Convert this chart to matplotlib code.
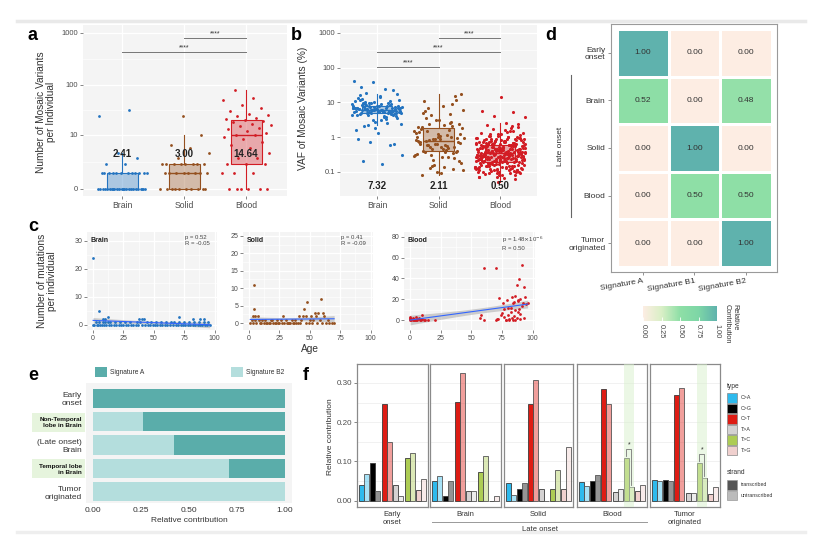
# -*- coding: utf-8 -*-
import numpy as np
import matplotlib
matplotlib.use('Agg')
import matplotlib.pyplot as plt
from matplotlib.colors import LinearSegmentedColormap, to_rgba
from matplotlib.patches import Rectangle

plt.rcParams['font.family'] = ['Liberation Sans', 'DejaVu Sans']

# ---------------- data ----------------
groups = ['Brain', 'Solid', 'Blood']
group_colors = ['#2474c0', '#94501f', '#d21c24']

# a: number of mosaic variants per individual
a_brain = [0, 0, 0, 0, 0, 0, 0, 0, 0, 0, 0, 0, 0, 0, 0, 0, 0, 0, 0, 0, 0, 0, 0, 0,
           1, 1, 1, 1, 1, 1, 1, 1, 1, 1, 1, 1, 2, 2, 3, 4, 24, 32]
a_solid = [0, 0, 0, 0, 0, 0, 0, 0, 0, 0, 1, 1, 1, 1, 1, 1, 1, 1,
           2, 2, 2, 2, 2, 2, 2, 2, 3, 4, 5, 6, 10, 24]
a_blood = [0, 0, 0, 0, 0, 0, 1, 1, 1, 2, 2, 2, 3, 3, 4, 5, 6, 7, 8, 9, 10, 10,
           11, 12, 13, 14, 15, 16, 17, 18, 19, 20, 21, 22, 24, 25, 27, 30, 35, 40, 50, 55, 80]
a_means = ['2.41', '3.00', '14.64']

# b: VAF of mosaic variants (%)
b_brain = [6.1, 5.2, 7.8, 4.5, 8.9, 5.9, 6.7, 3.9, 10.2, 5.5, 6.3, 7.1, 4.8, 9.4, 5.8, 6.0,
           12.5, 4.2, 7.5, 5.1, 6.8, 8.3, 3.5, 5.6, 6.4, 11.0, 4.9, 7.2, 5.3, 9.9, 6.2, 2.8,
           5.7, 8.0, 4.4, 6.6, 15.0, 5.0, 7.0, 3.2, 6.9, 5.4, 9.0, 4.1, 6.5, 13.5, 5.8, 7.4,
           2.4, 6.1, 8.6, 4.7, 5.9, 10.8, 3.7, 6.3, 7.7, 5.2, 16.5, 4.6, 6.0, 8.8, 5.5, 2.1,
           7.3, 6.4, 4.3, 9.6, 5.1, 6.7, 3.0, 28.0, 22.0, 38.0, 42.0, 25.0, 18.0, 17.0, 1.3,
           0.85, 0.6, 0.7, 0.3, 0.17, 0.2, 0.65, 1.8, 1.6, 2.6, 2.2, 11.5, 14.0, 12.0, 5.6,
           6.2, 7.9, 4.0, 6.6, 5.0, 8.1, 6.9, 5.3, 7.6, 4.8, 9.2, 6.0, 5.7, 10.5, 6.8, 3.3,
           4.9, 7.0, 5.4, 6.3, 8.4, 9.5, 4.4, 5.8, 7.2, 6.5]
b_solid = [0.8, 1.2, 0.5, 2.0, 0.35, 0.9, 1.5, 0.6, 3.5, 0.4, 1.0, 0.7, 2.5, 0.3, 1.8, 0.45,
           5.0, 0.25, 0.85, 1.3, 0.55, 7.0, 0.2, 1.1, 0.65, 9.0, 0.15, 0.95, 2.2, 0.38, 12.0,
           0.1, 0.75, 1.6, 0.5, 17.0, 0.09, 0.08, 0.12, 0.16, 0.3, 0.42, 0.6, 0.72, 1.05, 1.4,
           2.8, 4.2, 6.0, 8.0, 11.0, 15.0, 3.0, 0.33, 0.48, 0.58, 0.68, 0.88, 1.7, 2.1, 0.22,
           0.28, 0.36, 0.78, 0.92, 1.25, 1.9, 4.5, 0.13, 0.18, 0.26, 0.4, 0.52, 0.62, 0.82,
           1.15, 1.45, 2.4, 3.2, 0.7, 0.98, 0.44, 0.11, 0.14, 5.5, 0.36, 0.64, 1.02, 0.27, 2.3]
b_blood = [0.35, 0.28, 0.42, 0.51, 0.19, 0.33, 0.62, 0.25, 0.38, 0.46, 0.22, 0.31, 0.55, 0.17,
           0.29, 0.71, 0.36, 0.24, 0.44, 0.27, 0.58, 0.15, 0.32, 0.40, 0.21, 0.66, 0.30, 0.48,
           0.13, 0.26, 0.37, 0.52, 0.23, 0.34, 0.85, 0.18, 0.41, 0.29, 0.60, 0.20, 0.12, 0.39,
           0.27, 0.95, 0.45, 0.16, 0.31, 0.53, 0.24, 0.35, 0.68, 0.11, 0.43, 0.22, 0.30, 1.10,
           0.26, 0.49, 0.19, 0.36, 0.75, 0.14, 0.33, 0.57, 0.28, 0.10, 0.47, 0.23, 0.39, 1.30,
           0.21, 0.32, 0.64, 0.17, 0.44, 0.25, 0.09, 0.37, 0.80, 0.29, 0.54, 0.20, 0.34, 1.60,
           0.15, 0.41, 0.27, 0.70, 0.12, 0.38, 0.22, 0.50, 0.31, 0.08, 0.45, 0.26, 0.90, 0.18,
           0.35, 0.61, 0.24, 2.10, 0.40, 0.16, 0.30, 0.56, 0.21, 0.07, 0.43, 0.28, 1.20, 0.33,
           0.19, 0.48, 0.25, 0.66, 0.14, 0.36, 0.23, 2.40, 0.42, 0.11, 0.32, 0.78, 0.27, 0.52,
           0.20, 0.06, 0.39, 0.30, 1.00, 0.17, 0.46, 0.24, 0.59, 0.13, 0.34, 0.88, 0.22, 0.41,
           0.29, 0.05, 0.37, 1.45, 0.18, 0.55, 0.26, 0.72, 0.15, 0.44, 0.21, 0.33, 0.63, 0.10,
           0.40, 0.28, 1.80, 0.19, 0.49, 0.25, 0.35, 0.82, 0.12, 0.31, 0.58, 0.23, 0.09, 0.43,
           0.27, 0.67, 0.16, 0.38, 0.20, 0.51, 0.30, 1.05, 0.14, 0.45, 0.26, 0.36, 0.47, 0.32,
           0.57, 0.24, 0.69, 0.18, 0.41, 0.93, 0.28, 0.35, 0.15, 0.53, 0.22, 0.76, 0.30, 0.11,
           0.09, 0.10, 0.11, 0.12, 0.13, 0.08, 0.095, 0.105, 0.115, 0.125, 0.14, 0.145, 0.155,
           0.165, 0.175, 0.60, 0.65, 0.70, 0.75, 0.80, 0.85, 0.90, 0.95, 1.00, 1.10, 1.15, 1.25,
           1.35, 1.50, 1.70, 0.62, 0.73, 0.86, 0.98, 1.20, 0.07, 0.09, 0.105, 0.12, 0.135,
           0.55, 0.68, 0.77, 0.91, 1.40, 0.16, 0.185, 0.21, 0.23, 0.46, 0.52, 0.60, 0.065,
           0.085, 0.10, 0.115, 0.128, 0.142, 0.70, 0.83,
           14.0, 5.5, 5.3, 4.0, 3.8, 2.6, 2.2, 1.9, 0.08, 0.07]
b_means = ['7.32', '2.11', '0.50']

# c: mutations per individual vs age
c_brain_age = [0, 1, 3, 4, 6, 7, 9, 11, 13, 15, 17, 19, 21, 23, 25, 27, 29, 31, 33, 35, 37, 40,
               43, 45, 47, 49, 51, 53, 55, 57, 59, 61, 63, 66, 68, 70, 72, 74, 76, 78, 80, 82,
               84, 86, 88, 90, 92, 94, 96,
               2, 5, 8, 10, 12, 14, 18, 22, 26, 30, 36, 39, 44, 48, 52, 56, 60, 64, 67, 71, 75,
               79, 83, 87, 91, 95,
               8, 10, 38, 40, 42, 82, 88, 91, 12, 71, 5, 0]
c_brain_n = [0, 0, 0, 0, 0, 0, 0, 0, 0, 0, 0, 0, 0, 0, 0, 0, 0, 0, 0, 0, 0, 0,
             0, 0, 0, 0, 0, 0, 0, 0, 0, 0, 0, 0, 0, 0, 0, 0, 0, 0, 0, 0,
             0, 0, 0, 0, 0, 0, 0,
             1, 1, 1, 1, 1, 1, 1, 1, 1, 1, 1, 1, 1, 1, 1, 1, 1, 1, 1, 1, 1,
             1, 1, 1, 1, 1,
             2, 2, 2, 2, 2, 2, 2, 2, 3, 3, 5, 24]
c_solid_age = [1, 3, 6, 9, 10, 12, 14, 15, 16, 17, 20, 21, 22, 24, 25, 27, 29, 31, 32, 33,
               34, 36, 37, 39, 40, 42, 47, 49, 52, 56, 60, 63, 66, 68, 70,
               2, 5, 8, 11, 13, 18, 19, 23, 26, 30, 35, 38, 43, 50, 53, 58, 65,
               3, 5, 7, 28, 41, 44, 51, 55, 62, 47,
               54, 57, 61, 4, 45, 48, 59, 4]
c_solid_n = [0, 0, 0, 0, 0, 0, 0, 0, 0, 0, 0, 0, 0, 0, 0, 0, 0, 0, 0, 0,
             0, 0, 0, 0, 0, 0, 0, 0, 0, 0, 0, 0, 0, 0, 0,
             1, 1, 1, 1, 1, 1, 1, 1, 1, 1, 1, 1, 1, 1, 1, 1, 1,
             2, 2, 2, 2, 2, 2, 2, 2, 2, 2,
             3, 3, 3, 4, 4, 6, 7, 11]
c_blood_age = [0, 1, 2, 3, 4, 5, 6, 8, 9, 11, 12, 15, 20, 0, 1, 3, 6, 8, 10, 0, 2, 7, 0, 5, 10,
               57, 58, 60, 70, 71, 72, 74, 75, 76, 77, 77, 78, 79, 80, 80, 81, 82, 82, 83, 83,
               84, 84, 85, 85, 86, 86, 87, 87, 88, 88, 88, 89, 89, 90, 90, 91, 91, 92, 93, 93,
               94, 95, 96, 60, 70, 73, 78, 81, 86, 90]
c_blood_n = [0, 0, 0, 0, 0, 0, 0, 0, 0, 0, 0, 0, 0, 1, 1, 1, 1, 1, 1, 2, 2, 2, 3, 3, 5,
             2, 5, 50, 50, 1, 1, 5, 7, 16, 3, 11, 0, 19, 12, 5, 0, 12, 8, 2, 22,
             0, 16, 4, 17, 23, 10, 34, 2, 18, 8, 19, 39, 11, 20, 6, 53, 13, 16, 32, 2,
             22, 15, 16, 0, 0, 21, 0, 1, 0, 1]
c_stats = [('p = 0.52', 'R = -0.05'), ('p = 0.41', 'R = -0.09'),
           (r'p = 1.48$\times$10$^{-6}$', 'R = 0.50')]

# d: signature contributions
sig_names = ['Signature A', 'Signature B1', 'Signature B2']
d_rows = ['Early\nonset', 'Brain', 'Solid', 'Blood', 'Tumor\noriginated']
d_contrib = [[1.00, 0.00, 0.00],
             [0.52, 0.00, 0.48],
             [0.00, 1.00, 0.00],
             [0.00, 0.50, 0.50],
             [0.00, 0.00, 1.00]]

# e: relative contribution of signatures
e_rows = ['Early\nonset', 'Non-Temporal\nlobe in Brain', '(Late onset)\nBrain',
          'Temporal lobe\nin Brain', 'Tumor\noriginated']
e_highlight = [False, True, False, True, False]
e_sigB2 = [0.00, 0.26, 0.42, 0.71, 1.00]
e_sigA = [1.00, 0.74, 0.58, 0.29, 0.00]

# f: strand bias
mut_types = ['C>A', 'C>G', 'C>T', 'T>A', 'T>C', 'T>G']
type_colors = ['#2EBAED', '#000000', '#DE1C14', '#D4D2D2', '#ADCC54', '#F0D0CE']
f_groups = ['Early\nonset', 'Brain', 'Solid', 'Blood', 'Tumor\noriginated']
f_transcribed = [[0.040, 0.097, 0.247, 0.040, 0.110, 0.027],
                 [0.049, 0.012, 0.251, 0.026, 0.074, 0.000],
                 [0.046, 0.030, 0.247, 0.031, 0.031, 0.031],
                 [0.047, 0.050, 0.285, 0.023, 0.110, 0.026],
                 [0.052, 0.052, 0.268, 0.019, 0.096, 0.016]]
f_untranscribed = [[0.068, 0.026, 0.150, 0.013, 0.122, 0.056],
                   [0.062, 0.049, 0.326, 0.026, 0.113, 0.013],
                   [0.015, 0.046, 0.308, 0.000, 0.078, 0.138],
                   [0.037, 0.066, 0.247, 0.031, 0.036, 0.039],
                   [0.050, 0.050, 0.287, 0.020, 0.057, 0.036]]
f_signif = [False, False, False, True, True]

# ---------------- figure ----------------
W, H = 821, 535
fig = plt.figure(figsize=(W / 100, H / 100), dpi=100)


def px_axes(x0, y0, x1, y1):
    return fig.add_axes([x0 / W, 1 - y1 / H, (x1 - x0) / W, (y1 - y0) / H])


def jitter(n, half):
    k = np.arange(n)
    return ((k * 0.6180339887 + 0.31) % 1.0 - 0.5) * 2 * half


def gg_style(ax, size=5.5):
    ax.set_facecolor('#f4f4f4')
    for s in ax.spines.values():
        s.set_visible(False)
    ax.grid(True, which='major', color='white', lw=0.9)
    ax.grid(True, which='minor', color='white', lw=0.45)
    ax.set_axisbelow(True)
    ax.tick_params(which='major', length=2, width=0.5, color='#555', labelsize=size,
                   labelcolor='#4d4d4d', pad=1.5)
    ax.tick_params(which='minor', length=0)


def draw_box(ax, pos, vals, c):
    ax.boxplot([vals], positions=[pos], widths=0.5, patch_artist=True, showfliers=False,
               manage_ticks=False,
               boxprops=dict(facecolor=to_rgba(c, 0.35), edgecolor=c, lw=0.8),
               whiskerprops=dict(color=c, lw=0.8), capprops=dict(lw=0),
               medianprops=dict(color=c, lw=1.0), zorder=2)


ov = px_axes(0, 0, W, H)
ov.set_xlim(0, W)
ov.set_ylim(H, 0)
ov.axis('off')
ov.plot([17, 805], [21, 21], color='#e9e9e9', lw=2.5)
ov.plot([17, 805], [532, 532], color='#eeeeee', lw=2.5)

for lab, x, y in [('a', 28, 40), ('b', 291, 40), ('d', 545, 40),
                  ('c', 28, 231), ('e', 28, 380), ('f', 303, 380)]:
    ov.text(x, y, lab, fontsize=13, fontweight='bold', va='baseline', ha='left')

# ---- a ----
ax = px_axes(83, 25, 287, 196)
gg_style(ax)
for i, vals in enumerate([a_brain, a_solid, a_blood]):
    t = np.log10(np.array(vals, float) + 1)
    draw_box(ax, i, t, group_colors[i])
    ax.scatter(i + jitter(len(t), 0.4), t, s=4, color=group_colors[i], lw=0, zorder=3)
    ax.text(i, 0.67, a_means[i], ha='center', va='center', fontsize=7, fontweight='bold',
            color='#222', zorder=4)
ax.set_xlim(-0.63, 2.66)
ax.set_ylim(-0.135, 3.15)
ax.set_yticks(np.log10(np.array([0, 10, 100, 1000]) + 1))
ax.set_yticklabels(['0', '10', '100', '1000'])
ax.set_yticks([0.52, 1.52, 2.5], minor=True)
ax.set_xticks([0, 1, 2])
ax.set_xticklabels(groups, fontsize=6.2)
for g0, g1, yy in [(1, 2, 2.9), (0, 2, 2.63)]:
    ax.plot([g0, g1], [yy, yy], color='#777', lw=0.7)
    ax.text((g0 + g1) / 2, yy + 0.02, '****', ha='center', va='bottom', fontsize=5, color='#333')
ov.text(46, 112, 'Number of Mosaic Variants\nper Individual', rotation=90, ha='center',
        va='center', fontsize=7.3, color='#333', linespacing=1.1)

# ---- b ----
ax = px_axes(340, 25, 537, 196)
gg_style(ax)
for i, vals in enumerate([b_brain, b_solid, b_blood]):
    t = np.log10(np.array(vals, float))
    draw_box(ax, i, t, group_colors[i])
    ax.scatter(i + jitter(len(t), 0.41), t, s=5, color=group_colors[i], lw=0, zorder=3)
    ax.text(i, -1.41, b_means[i], ha='center', va='center', fontsize=7, fontweight='bold',
            color='#222', zorder=4)
ax.set_xlim(-0.6, 2.6)
ax.set_ylim(-1.70, 3.23)
ax.set_yticks([-1, 0, 1, 2, 3])
ax.set_yticklabels(['0.1', '1', '10', '100', '1000'])
ax.set_yticks([-0.5, 0.5, 1.5, 2.5], minor=True)
ax.set_xticks([0, 1, 2])
ax.set_xticklabels(groups, fontsize=6.2)
for g0, g1, yy in [(0, 1, 2.02), (0, 2, 2.45), (1, 2, 2.85)]:
    ax.plot([g0, g1], [yy, yy], color='#777', lw=0.7)
    ax.text((g0 + g1) / 2, yy + 0.02, '****', ha='center', va='bottom', fontsize=5, color='#333')
ov.text(303, 108, 'VAF of Mosaic Variants (%)', rotation=90, ha='center', va='center',
        fontsize=7.3, color='#333')

# ---- c ----
c_sets = [(87, 217, c_brain_age, c_brain_n, (-1.8, 33.1), [0, 10, 20, 30]),
          (243, 373, c_solid_age, c_solid_n, (-2.0, 26.1), [0, 5, 10, 15, 20, 25]),
          (404, 535, c_blood_age, c_blood_n, (-9.6, 84.6), [0, 20, 40, 60, 80])]
for i, (x0, x1, age, cnt, ylim, yt) in enumerate(c_sets):
    ax = px_axes(x0, 232, x1, 330)
    gg_style(ax, size=5)
    xa = np.array(age, float)
    ya = np.array(cnt, float)
    slope, icpt = np.polyfit(xa, ya, 1)
    xs = np.linspace(xa.min(), xa.max(), 60)
    yh = icpt + slope * xs
    resid = ya - (icpt + slope * xa)
    s = np.sqrt(np.sum(resid ** 2) / (len(xa) - 2))
    se = s * np.sqrt(1 / len(xa) + (xs - xa.mean()) ** 2 / np.sum((xa - xa.mean()) ** 2))
    ax.scatter(xa, ya, s=4, color=group_colors[i], lw=0, zorder=3)
    ax.fill_between(xs, yh - 1.97 * se, yh + 1.97 * se, color='#9a9a9a', alpha=0.45, lw=0,
                    zorder=2)
    ax.plot(xs, yh, color='#3366ff', lw=0.8, zorder=4)
    ax.set_xlim(-5, 102)
    ax.set_ylim(*ylim)
    ax.set_xticks([0, 25, 50, 75, 100])
    ax.set_xticks([12.5, 37.5, 62.5, 87.5], minor=True)
    ax.set_yticks(yt)
    ax.set_yticks(np.array(yt[:-1]) + (yt[1] - yt[0]) / 2, minor=True)
    ax.text(0.03, 0.95, groups[i], transform=ax.transAxes, fontsize=5, fontweight='bold',
            va='top', ha='left', color='#222')
    ax.text(0.75, 0.97, c_stats[i][0] + '\n' + c_stats[i][1], transform=ax.transAxes,
            fontsize=4.3, va='top', ha='left', color='#444', linespacing=1.2)
ov.text(47, 281, 'Number of mutations\nper individual', rotation=90, ha='center', va='center',
        fontsize=7.3, color='#333', linespacing=1.1)
ov.text(310, 349, 'Age', ha='center', va='center', fontsize=7.3, color='#333')

# ---- d ----
cmap = LinearSegmentedColormap.from_list(
    'contrib', [(0, '#fdede3'), (0.25, '#d9efc6'), (0.5, '#8edfa6'), (0.75, '#7dd6a6'),
                (1, '#5fb2ad')])
ax = px_axes(611, 24, 777, 272)
M = np.array(d_contrib)
mesh = ax.pcolormesh(np.arange(4) - 0.5, np.arange(6) - 0.5, M, cmap=cmap, vmin=0, vmax=1,
                     edgecolors='white', linewidth=1.0)
for r in range(M.shape[0]):
    for c in range(M.shape[1]):
        ax.text(c, r, f'{M[r, c]:.2f}', ha='center', va='center', fontsize=6, color='#333')
ax.set_xlim(-0.616, 2.597)
ax.set_ylim(4.605, -0.605)
for s in ax.spines.values():
    s.set_color('#9a9a9a')
    s.set_linewidth(0.8)
ax.set_yticks(range(len(d_rows)))
ax.set_yticklabels(d_rows, fontsize=6, color='#333', linespacing=1.1)
ax.set_xticks(range(len(sig_names)))
ax.set_xticklabels(sig_names, fontsize=6, color='#333', rotation=10, ha='right',
                   rotation_mode='anchor')
ax.tick_params(length=2, width=0.5, color='#666', pad=2)
ov.plot([571, 571], [75, 217], color='#666', lw=0.8)
ov.text(560, 146, 'Late onset', rotation=90, ha='center', va='center', fontsize=6, color='#333')

cax = px_axes(643, 306, 717, 321)
cb = fig.colorbar(mesh, cax=cax, orientation='horizontal')
cb.outline.set_visible(False)
cb.set_ticks([0, 0.25, 0.5, 0.75, 1.0])
cb.set_ticklabels(['0.00', '0.25', '0.50', '0.75', '1.00'])
cax.tick_params(length=3, width=0.6, color='white', direction='in', labelsize=5.3,
                labelcolor='#444', labelrotation=-90, pad=2)
for t in cax.get_xticklabels():
    t.set_va('top')
ov.text(724, 304, 'Relative\nContribution', rotation=-90, ha='left', va='top', fontsize=5.3,
        color='#333', linespacing=1.1)

# ---- e ----
ax = px_axes(86, 383, 292, 503)
ax.set_facecolor('#f4f4f4')
for s in ax.spines.values():
    s.set_visible(False)
ye = np.arange(len(e_rows))
ax.barh(ye, e_sigB2, height=0.81, color='#b4dedd', zorder=2)
ax.barh(ye, e_sigA, left=e_sigB2, height=0.81, color='#5aadaa', zorder=2)
ax.set_xlim(-0.036, 1.036)
ax.set_ylim(4.47, -0.64)
ax.set_xticks([0, 0.25, 0.5, 0.75, 1.0])
ax.set_xticklabels(['0.00', '0.25', '0.50', '0.75', '1.00'])
ax.set_yticks(ye)
ax.set_yticklabels(e_rows, linespacing=1.15)
ax.tick_params(length=0, labelsize=6, labelcolor='#333', pad=3)
for lab, hl in zip(ax.get_yticklabels(), e_highlight):
    if hl:
        lab.set_fontsize(4.6)
        lab.set_fontweight('bold')
        lab.set_color('#111')
ax.set_xlabel('Relative contribution', fontsize=6, color='#333', labelpad=2)
ov.add_patch(Rectangle((32, 413), 53, 19, color='#e6f4dd', lw=0))
ov.add_patch(Rectangle((32, 459), 53, 19, color='#e6f4dd', lw=0))
ov.add_patch(Rectangle((95, 367), 12, 10, color='#5aadaa', lw=0))
ov.text(110, 372, 'Signature A', fontsize=4.8, va='center', ha='left', color='#333')
ov.add_patch(Rectangle((231, 367), 12, 10, color='#b4dedd', lw=0))
ov.text(246, 372, 'Signature B2', fontsize=4.8, va='center', ha='left', color='#333')

# ---- f ----
facets = [(357, 428), (430, 501), (504, 573), (577, 647), (650, 720)]
xf = np.arange(len(mut_types))
for i, (x0, x1) in enumerate(facets):
    ax = px_axes(x0, 364, x1, 507)
    ax.set_facecolor('white')
    for s in ax.spines.values():
        s.set_color('#8a8a8a')
        s.set_linewidth(0.9)
    ax.bar(xf - 0.225, f_transcribed[i], width=0.45, color=type_colors, edgecolor='#3a3a3a',
           lw=0.6, zorder=2)
    ax.bar(xf + 0.225, f_untranscribed[i], width=0.45,
           color=[to_rgba(c, 0.42) for c in type_colors], edgecolor='#555', lw=0.6, zorder=2)
    if f_signif[i]:
        yt_ = f_transcribed[i][4]
        yu_ = f_untranscribed[i][4]
        top = max(yt_, yu_) + 0.022
        ax.plot([3.775, 3.775, 4.225, 4.225], [yt_ + 0.005, top, top, yu_ + 0.005],
                color='#777', lw=0.6, zorder=4)
        ax.text(4.0, top + 0.002, '*', ha='center', va='bottom', fontsize=5, color='#333',
                zorder=4)
        ax.axvspan(3.55, 4.45, color='#d8f0cc', alpha=0.5, lw=0, zorder=3)
    ax.set_xlim(-0.6, 5.6)
    ax.set_ylim(-0.016, 0.348)
    ax.set_yticks([0, 0.1, 0.2, 0.3])
    ax.set_yticks([0.05, 0.15, 0.25], minor=True)
    ax.grid(True, axis='y', which='both', color='#efefef', lw=0.6)
    ax.set_axisbelow(True)
    ax.set_xticks([])
    ax.tick_params(which='minor', length=0)
    if i == 0:
        ax.set_yticklabels(['0.00', '0.10', '0.20', '0.30'])
        ax.tick_params(which='major', length=2, width=0.5, color='#555', labelsize=5.8,
                       labelcolor='#4d4d4d', pad=1.5)
    else:
        ax.set_yticklabels([])
        ax.tick_params(which='major', length=0)
    ov.text((x0 + x1) / 2, 511, f_groups[i], ha='center', va='top', fontsize=5.5, color='#333',
            linespacing=1.2)
ov.plot([432, 647], [522, 522], color='#999', lw=0.7)
ov.text(540, 526, 'Late onset', ha='center', va='top', fontsize=5.5, color='#333')
ov.text(331, 437, 'Relative contribution', rotation=90, ha='center', va='center', fontsize=6,
        color='#333')

# f legend
ov.text(727, 387, 'type', fontsize=4.8, va='center', ha='left', color='#333')
for k, (mt, col) in enumerate(zip(mut_types, type_colors)):
    yk = 393 + k * 10.5
    ov.add_patch(Rectangle((727, yk), 10, 9.5, facecolor=col, edgecolor='#888', lw=0.5))
    ov.text(741, yk + 4.8, mt, fontsize=3.8, va='center', ha='left', color='#333')
ov.text(727, 473, 'strand', fontsize=4.8, va='center', ha='left', color='#333')
for k, (nm, col) in enumerate([('transcribed', '#555555'), ('untranscribed', '#bbbbbb')]):
    yk = 480 + k * 10.5
    ov.add_patch(Rectangle((727, yk), 10, 9.5, facecolor=col, edgecolor='#999', lw=0.5))
    ov.text(741, yk + 4.8, nm, fontsize=3.8, va='center', ha='left', color='#333')

fig.savefig('out.png', dpi=100)
